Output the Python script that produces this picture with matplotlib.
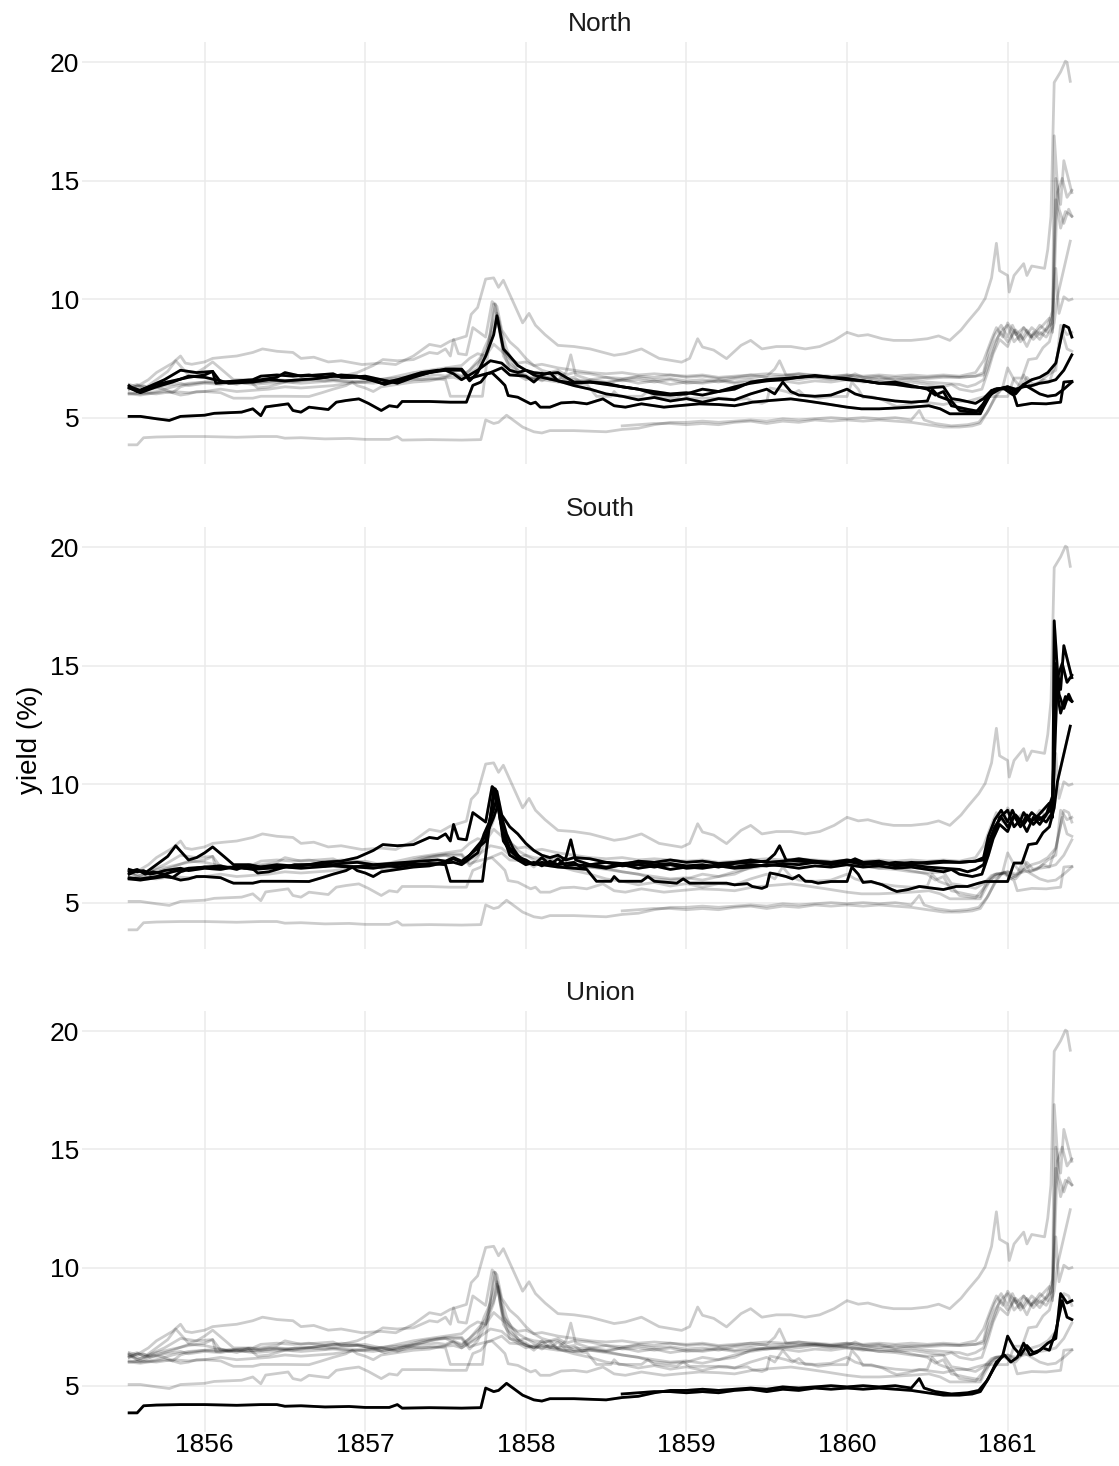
import matplotlib
matplotlib.use("Agg")
import matplotlib.pyplot as plt

plt.rcParams['font.family'] = ['Liberation Sans', 'DejaVu Sans']

# bond yields (%), (decimal year, yield)
north_a = [(1855.53, 6.35), (1855.58, 6.1), (1855.65, 6.3), (1855.75, 6.6), (1855.85, 7.0), (1855.95, 6.9),
           (1856.05, 6.95), (1856.1, 6.5), (1856.2, 6.55), (1856.3, 6.6), (1856.35, 6.75), (1856.45, 6.8),
           (1856.55, 6.75), (1856.65, 6.8), (1856.75, 6.7), (1856.85, 6.8), (1856.95, 6.75), (1857.1, 6.45),
           (1857.2, 6.6), (1857.35, 6.9), (1857.45, 7.0), (1857.6, 7.0), (1857.65, 6.55), (1857.7, 6.9),
           (1857.75, 7.6), (1857.8, 8.5), (1857.82, 9.3), (1857.86, 7.9), (1857.9, 7.6), (1857.95, 7.2),
           (1858.0, 7.0), (1858.05, 6.9), (1858.12, 6.85), (1858.2, 6.9), (1858.3, 6.5), (1858.4, 6.5),
           (1858.5, 6.4), (1858.6, 6.3), (1858.7, 6.2), (1858.8, 6.0), (1858.9, 5.95), (1859.0, 6.0),
           (1859.1, 6.2), (1859.2, 6.1), (1859.3, 6.3), (1859.4, 6.45), (1859.5, 6.55), (1859.6, 6.6),
           (1859.7, 6.7), (1859.8, 6.75), (1859.9, 6.7), (1860.0, 6.6), (1860.1, 6.55), (1860.2, 6.45),
           (1860.3, 6.5), (1860.4, 6.35), (1860.5, 6.2), (1860.55, 5.95), (1860.6, 6.1), (1860.65, 5.5),
           (1860.75, 5.35), (1860.83, 5.25), (1860.87, 5.9), (1860.92, 6.2), (1860.98, 6.25), (1861.05, 6.0),
           (1861.1, 6.4), (1861.15, 6.6), (1861.2, 6.7), (1861.25, 6.9), (1861.3, 7.3), (1861.35, 8.9),
           (1861.38, 8.8), (1861.4, 8.4)]
north_b = [(1855.53, 6.25), (1855.6, 6.05), (1855.7, 6.3), (1855.8, 6.5), (1855.9, 6.75), (1856.0, 6.7),
           (1856.1, 6.55), (1856.15, 6.45), (1856.3, 6.5), (1856.4, 6.6), (1856.5, 6.55), (1856.6, 6.6),
           (1856.7, 6.65), (1856.8, 6.75), (1856.9, 6.7), (1857.0, 6.75), (1857.1, 6.6), (1857.2, 6.45),
           (1857.3, 6.7), (1857.4, 6.9), (1857.5, 7.0), (1857.55, 6.85), (1857.6, 6.6), (1857.65, 6.8),
           (1857.7, 7.0), (1857.78, 7.4), (1857.85, 7.3), (1857.9, 7.0), (1857.95, 6.9), (1858.0, 7.0),
           (1858.05, 6.8), (1858.1, 6.7), (1858.2, 6.55), (1858.3, 6.35), (1858.4, 6.2), (1858.5, 6.0),
           (1858.6, 5.9), (1858.7, 5.75), (1858.8, 5.85), (1858.9, 5.7), (1859.0, 5.8), (1859.1, 5.65),
           (1859.2, 5.8), (1859.3, 5.75), (1859.4, 6.0), (1859.5, 6.2), (1859.55, 6.0), (1859.6, 6.5),
           (1859.65, 6.1), (1859.7, 5.95), (1859.8, 5.9), (1859.9, 5.95), (1860.0, 6.2), (1860.05, 6.0),
           (1860.1, 5.9), (1860.2, 5.8), (1860.3, 5.7), (1860.4, 5.65), (1860.5, 5.7), (1860.53, 6.2),
           (1860.57, 5.9), (1860.65, 5.7), (1860.7, 5.3), (1860.8, 5.2), (1860.85, 5.6), (1860.9, 6.0),
           (1860.95, 6.2), (1861.0, 6.3), (1861.05, 6.2), (1861.1, 6.3), (1861.15, 6.35), (1861.2, 6.45),
           (1861.25, 6.5), (1861.3, 6.6), (1861.35, 7.0), (1861.4, 7.65)]
north_c = [(1855.53, 5.05), (1855.6, 5.05), (1855.7, 4.95), (1855.78, 4.88), (1855.85, 5.05), (1856.0, 5.1),
           (1856.06, 5.18), (1856.23, 5.23), (1856.3, 5.37), (1856.35, 5.08), (1856.38, 5.45), (1856.52, 5.58),
           (1856.55, 5.3), (1856.6, 5.23), (1856.65, 5.44), (1856.77, 5.34), (1856.82, 5.65), (1856.88, 5.72),
           (1856.96, 5.79), (1857.02, 5.6), (1857.1, 5.3), (1857.15, 5.5), (1857.2, 5.45), (1857.23, 5.68),
           (1857.4, 5.68), (1857.53, 5.65), (1857.63, 5.65), (1857.67, 6.36), (1857.72, 6.5), (1857.76, 6.85),
           (1857.79, 6.89), (1857.84, 6.57), (1857.87, 6.36), (1857.89, 5.93), (1857.95, 5.86), (1858.03, 5.58),
           (1858.06, 5.65), (1858.09, 5.44), (1858.15, 5.44), (1858.22, 5.62), (1858.3, 5.65), (1858.38, 5.58),
           (1858.48, 5.79), (1858.55, 5.5), (1858.62, 5.44), (1858.72, 5.58), (1858.86, 5.44), (1858.95, 5.5),
           (1859.08, 5.58), (1859.2, 5.55), (1859.3, 5.5), (1859.41, 5.65), (1859.52, 5.72), (1859.65, 5.79),
           (1859.75, 5.7), (1859.87, 5.58), (1860.0, 5.44), (1860.09, 5.37), (1860.2, 5.37), (1860.29, 5.4),
           (1860.4, 5.44), (1860.51, 5.5), (1860.58, 5.37), (1860.64, 5.16), (1860.73, 5.16), (1860.83, 5.16),
           (1860.85, 5.44), (1860.89, 5.93), (1860.93, 6.21), (1860.98, 6.21), (1861.04, 5.93), (1861.06, 5.5),
           (1861.15, 5.6), (1861.24, 5.58), (1861.33, 5.65), (1861.35, 6.5), (1861.4, 6.53)]
north_d = [(1855.53, 6.3), (1855.6, 6.15), (1855.7, 6.4), (1855.8, 6.55), (1855.9, 6.7), (1856.0, 6.8),
           (1856.05, 6.95), (1856.07, 6.45), (1856.15, 6.5), (1856.25, 6.55), (1856.35, 6.6), (1856.45, 6.7),
           (1856.5, 6.9), (1856.6, 6.75), (1856.7, 6.8), (1856.8, 6.85), (1856.85, 6.7), (1856.95, 6.7),
           (1857.05, 6.6), (1857.12, 6.4), (1857.2, 6.55), (1857.3, 6.75), (1857.4, 6.9), (1857.5, 7.05),
           (1857.6, 7.05), (1857.65, 6.65), (1857.7, 6.75), (1857.78, 6.9), (1857.85, 7.1), (1857.9, 6.8),
           (1858.0, 6.75), (1858.05, 6.5), (1858.1, 6.8), (1858.15, 6.9), (1858.2, 6.55), (1858.3, 6.45),
           (1858.4, 6.5), (1858.5, 6.45), (1858.6, 6.3), (1858.7, 6.2), (1858.8, 6.1), (1858.9, 6.0),
           (1859.0, 6.05), (1859.1, 5.95), (1859.2, 6.1), (1859.3, 6.2), (1859.4, 6.5), (1859.5, 6.6),
           (1859.6, 6.65), (1859.7, 6.7), (1859.8, 6.78), (1859.9, 6.7), (1860.0, 6.65), (1860.1, 6.55),
           (1860.2, 6.45), (1860.3, 6.4), (1860.4, 6.3), (1860.5, 6.25), (1860.6, 6.3), (1860.65, 5.8),
           (1860.7, 5.75), (1860.8, 5.6), (1860.85, 5.8), (1860.9, 6.15), (1861.0, 6.3), (1861.05, 6.1),
           (1861.1, 6.4), (1861.15, 6.2), (1861.2, 6.0), (1861.25, 5.9), (1861.3, 5.95), (1861.35, 6.2),
           (1861.4, 6.5)]

south_a = [(1855.53, 6.2), (1855.58, 6.35), (1855.64, 6.3), (1855.71, 6.65), (1855.77, 6.95), (1855.82, 7.4),
           (1855.86, 7.1), (1855.9, 6.8), (1855.95, 6.9), (1856.0, 7.1), (1856.05, 7.35), (1856.12, 6.95),
           (1856.18, 6.6), (1856.27, 6.6), (1856.33, 6.25), (1856.4, 6.3), (1856.5, 6.5), (1856.56, 6.6),
           (1856.65, 6.6), (1856.73, 6.7), (1856.85, 6.75), (1856.95, 6.9), (1857.05, 7.2), (1857.11, 7.45),
           (1857.2, 7.4), (1857.3, 7.45), (1857.35, 7.6), (1857.4, 7.75), (1857.45, 7.7), (1857.5, 7.9),
           (1857.53, 7.6), (1857.55, 8.3), (1857.58, 7.7), (1857.63, 7.65), (1857.67, 8.8), (1857.71, 8.6),
           (1857.75, 8.4), (1857.79, 9.9), (1857.82, 9.7), (1857.85, 8.7), (1857.9, 8.2), (1857.95, 7.9),
           (1858.0, 7.5), (1858.05, 7.2), (1858.1, 7.0), (1858.15, 6.9), (1858.2, 7.0), (1858.25, 6.8),
           (1858.3, 6.9), (1858.4, 6.85), (1858.5, 6.7), (1858.6, 6.65), (1858.7, 6.7), (1858.8, 6.6),
           (1858.9, 6.65), (1859.0, 6.55), (1859.1, 6.6), (1859.2, 6.5), (1859.3, 6.65), (1859.4, 6.7),
           (1859.5, 6.75), (1859.55, 7.05), (1859.58, 7.4), (1859.62, 6.8), (1859.7, 6.75), (1859.8, 6.7),
           (1859.9, 6.6), (1860.0, 6.7), (1860.05, 6.85), (1860.1, 6.7), (1860.2, 6.75), (1860.3, 6.6),
           (1860.4, 6.7), (1860.5, 6.65), (1860.6, 6.7), (1860.7, 6.7), (1860.8, 6.75), (1860.85, 6.9),
           (1860.88, 7.8), (1860.92, 8.5), (1860.96, 8.9), (1861.0, 8.4), (1861.03, 8.9), (1861.07, 8.3),
           (1861.1, 8.8), (1861.14, 8.4), (1861.18, 8.6), (1861.22, 8.9), (1861.26, 9.2), (1861.28, 8.6),
           (1861.29, 16.9), (1861.32, 13.8), (1861.35, 13.2), (1861.38, 13.8), (1861.4, 13.5)]
south_b = [(1855.53, 6.05), (1855.6, 6.0), (1855.7, 6.1), (1855.8, 6.3), (1855.9, 6.45), (1856.0, 6.5),
           (1856.1, 6.45), (1856.2, 6.5), (1856.3, 6.4), (1856.4, 6.45), (1856.5, 6.5), (1856.6, 6.45),
           (1856.7, 6.5), (1856.8, 6.55), (1856.9, 6.5), (1857.0, 6.55), (1857.1, 6.6), (1857.2, 6.5),
           (1857.3, 6.6), (1857.4, 6.65), (1857.5, 6.6), (1857.53, 5.9), (1857.6, 5.9), (1857.7, 5.9),
           (1857.73, 5.9), (1857.76, 7.5), (1857.8, 9.8), (1857.83, 9.0), (1857.86, 7.6), (1857.9, 7.2),
           (1857.95, 6.9), (1858.0, 6.7), (1858.05, 6.6), (1858.1, 6.7), (1858.2, 6.6), (1858.25, 6.9),
           (1858.28, 7.65), (1858.31, 6.8), (1858.4, 6.6), (1858.5, 6.5), (1858.6, 6.6), (1858.7, 6.75),
           (1858.8, 6.7), (1858.9, 6.8), (1859.0, 6.7), (1859.1, 6.75), (1859.2, 6.65), (1859.3, 6.7),
           (1859.4, 6.8), (1859.5, 6.7), (1859.6, 6.75), (1859.7, 6.85), (1859.8, 6.75), (1859.9, 6.7),
           (1860.0, 6.8), (1860.1, 6.7), (1860.2, 6.6), (1860.3, 6.7), (1860.4, 6.65), (1860.5, 6.7),
           (1860.6, 6.75), (1860.7, 6.7), (1860.8, 6.75), (1860.85, 6.8), (1860.88, 7.5), (1860.92, 8.2),
           (1860.96, 8.6), (1861.0, 8.2), (1861.05, 8.7), (1861.1, 8.3), (1861.15, 8.8), (1861.2, 8.5),
           (1861.25, 8.8), (1861.28, 9.0), (1861.3, 15.1), (1861.33, 14.0), (1861.35, 15.85), (1861.4, 14.5)]
south_c = [(1855.53, 6.0), (1855.6, 5.95), (1855.65, 6.0), (1855.75, 6.1), (1855.8, 6.05), (1855.85, 5.95),
           (1855.9, 6.0), (1855.95, 6.1), (1856.0, 6.1), (1856.1, 6.05), (1856.15, 5.9), (1856.18, 5.82),
           (1856.3, 5.82), (1856.35, 5.9), (1856.4, 5.9), (1856.5, 5.9), (1856.65, 5.89), (1856.73, 6.05),
           (1856.8, 6.2), (1856.88, 6.35), (1856.92, 6.5), (1856.95, 6.35), (1857.0, 6.25), (1857.05, 6.1),
           (1857.1, 6.3), (1857.2, 6.4), (1857.3, 6.5), (1857.4, 6.55), (1857.5, 6.7), (1857.55, 6.85),
           (1857.6, 6.7), (1857.65, 7.0), (1857.7, 7.4), (1857.75, 7.8), (1857.8, 8.6), (1857.83, 9.2),
           (1857.86, 8.0), (1857.9, 7.3), (1857.95, 7.0), (1858.0, 6.7), (1858.1, 6.6), (1858.2, 6.5),
           (1858.3, 6.45), (1858.38, 6.4), (1858.44, 5.9), (1858.53, 5.9), (1858.55, 6.1), (1858.58, 5.9),
           (1858.72, 5.9), (1858.76, 6.1), (1858.8, 5.9), (1858.94, 5.82), (1858.98, 6.0), (1859.02, 5.82),
           (1859.25, 5.82), (1859.3, 5.75), (1859.38, 5.8), (1859.41, 5.68), (1859.47, 5.6), (1859.5, 5.68),
           (1859.52, 6.25), (1859.56, 6.2), (1859.62, 6.1), (1859.66, 6.0), (1859.7, 6.15), (1859.74, 5.9),
           (1859.78, 5.89), (1859.82, 5.82), (1859.9, 5.89), (1860.0, 5.89), (1860.03, 6.5), (1860.07, 6.2),
           (1860.1, 5.85), (1860.15, 5.89), (1860.22, 5.75), (1860.28, 5.55), (1860.31, 5.47), (1860.38, 5.55),
           (1860.45, 5.68), (1860.53, 5.61), (1860.6, 5.55), (1860.68, 5.68), (1860.75, 5.68), (1860.82, 5.82),
           (1860.86, 5.89), (1860.95, 5.89), (1861.0, 5.89), (1861.04, 6.67), (1861.09, 6.67), (1861.13, 7.45),
           (1861.18, 7.5), (1861.22, 7.95), (1861.26, 8.2), (1861.29, 9.0), (1861.31, 10.1), (1861.39, 12.45)]
south_d = [(1855.53, 6.4), (1855.58, 6.3), (1855.62, 6.35), (1855.66, 6.2), (1855.7, 6.25), (1855.75, 6.35),
           (1855.8, 6.4), (1855.85, 6.45), (1855.9, 6.35), (1856.0, 6.45), (1856.1, 6.4), (1856.18, 6.5),
           (1856.25, 6.45), (1856.35, 6.5), (1856.45, 6.6), (1856.55, 6.55), (1856.65, 6.6), (1856.75, 6.55),
           (1856.85, 6.65), (1856.95, 6.7), (1857.05, 6.6), (1857.15, 6.65), (1857.25, 6.7), (1857.35, 6.75),
           (1857.45, 6.8), (1857.5, 6.75), (1857.55, 6.9), (1857.6, 6.75), (1857.65, 7.0), (1857.7, 7.3),
           (1857.75, 7.6), (1857.79, 9.0), (1857.81, 9.8), (1857.84, 8.5), (1857.87, 7.6), (1857.9, 7.0),
           (1857.95, 6.8), (1858.0, 6.6), (1858.05, 6.7), (1858.1, 6.55), (1858.15, 6.75), (1858.2, 6.6),
           (1858.3, 6.7), (1858.35, 6.45), (1858.4, 6.6), (1858.5, 6.7), (1858.6, 6.55), (1858.7, 6.6),
           (1858.8, 6.5), (1858.9, 6.6), (1859.0, 6.45), (1859.1, 6.5), (1859.2, 6.6), (1859.3, 6.5),
           (1859.4, 6.6), (1859.5, 6.55), (1859.6, 6.65), (1859.7, 6.6), (1859.8, 6.7), (1859.9, 6.65),
           (1860.0, 6.75), (1860.1, 6.6), (1860.2, 6.7), (1860.3, 6.55), (1860.4, 6.6), (1860.5, 6.5),
           (1860.6, 6.45), (1860.7, 6.4), (1860.75, 6.3), (1860.8, 6.4), (1860.85, 6.6), (1860.88, 7.2),
           (1860.92, 8.0), (1860.95, 8.6), (1861.0, 8.9), (1861.04, 8.2), (1861.08, 8.5), (1861.12, 8.0),
           (1861.16, 8.6), (1861.2, 8.3), (1861.24, 8.7), (1861.28, 9.5), (1861.3, 14.2), (1861.33, 13.0),
           (1861.36, 13.7), (1861.4, 13.5)]
south_e = [(1855.53, 6.3), (1855.58, 6.4), (1855.63, 6.2), (1855.68, 6.3), (1855.75, 6.2), (1855.8, 6.05),
           (1855.85, 6.3), (1855.9, 6.4), (1856.0, 6.5), (1856.1, 6.55), (1856.2, 6.4), (1856.28, 6.6),
           (1856.35, 6.5), (1856.45, 6.55), (1856.55, 6.5), (1856.65, 6.6), (1856.75, 6.65), (1856.85, 6.55),
           (1856.95, 6.5), (1857.05, 6.45), (1857.15, 6.55), (1857.25, 6.65), (1857.35, 6.6), (1857.45, 6.65),
           (1857.55, 6.7), (1857.6, 6.6), (1857.65, 6.85), (1857.7, 7.1), (1857.74, 7.9), (1857.78, 8.5),
           (1857.82, 9.4), (1857.85, 8.6), (1857.88, 7.9), (1857.92, 7.3), (1857.96, 6.9), (1858.0, 6.8),
           (1858.05, 6.6), (1858.1, 6.9), (1858.15, 6.6), (1858.2, 6.85), (1858.25, 6.55), (1858.3, 6.6),
           (1858.4, 6.55), (1858.5, 6.45), (1858.6, 6.6), (1858.7, 6.45), (1858.8, 6.55), (1858.9, 6.4),
           (1859.0, 6.5), (1859.1, 6.45), (1859.2, 6.55), (1859.3, 6.45), (1859.4, 6.5), (1859.5, 6.6),
           (1859.6, 6.55), (1859.7, 6.45), (1859.8, 6.55), (1859.9, 6.5), (1860.0, 6.6), (1860.1, 6.5),
           (1860.2, 6.55), (1860.3, 6.45), (1860.4, 6.5), (1860.5, 6.4), (1860.6, 6.3), (1860.65, 6.4),
           (1860.7, 6.2), (1860.78, 6.1), (1860.84, 6.2), (1860.88, 7.0), (1860.91, 7.7), (1860.95, 8.3),
           (1861.0, 8.0), (1861.04, 8.7), (1861.08, 8.2), (1861.12, 8.7), (1861.16, 8.3), (1861.2, 8.6),
           (1861.24, 8.4), (1861.28, 8.8), (1861.31, 14.5), (1861.34, 15.1), (1861.37, 14.3), (1861.4, 14.6)]

union_a = [(1855.53, 3.85), (1855.58, 3.85), (1855.62, 4.15), (1855.7, 4.18), (1855.85, 4.2), (1856.0, 4.2),
           (1856.2, 4.17), (1856.35, 4.2), (1856.45, 4.2), (1856.5, 4.13), (1856.6, 4.15), (1856.75, 4.1),
           (1856.9, 4.12), (1857.0, 4.08), (1857.15, 4.08), (1857.2, 4.2), (1857.23, 4.05), (1857.4, 4.07),
           (1857.6, 4.05), (1857.72, 4.07), (1857.75, 4.9), (1857.8, 4.75), (1857.83, 4.8), (1857.88, 5.1),
           (1857.93, 4.85), (1857.98, 4.6), (1858.05, 4.4), (1858.1, 4.35), (1858.15, 4.45), (1858.3, 4.45),
           (1858.5, 4.4), (1858.6, 4.5), (1858.7, 4.55), (1858.8, 4.7), (1858.9, 4.8), (1859.0, 4.8),
           (1859.1, 4.85), (1859.2, 4.8), (1859.3, 4.85), (1859.4, 4.9), (1859.5, 4.85), (1859.6, 4.95),
           (1859.7, 4.9), (1859.8, 4.95), (1859.9, 5.0), (1860.0, 4.95), (1860.1, 5.0), (1860.2, 4.95),
           (1860.3, 5.0), (1860.4, 4.9), (1860.45, 5.3), (1860.48, 4.9), (1860.55, 4.75), (1860.65, 4.65),
           (1860.75, 4.7), (1860.82, 4.8), (1860.87, 5.2), (1860.92, 5.8), (1860.97, 6.3), (1861.0, 7.1),
           (1861.04, 6.6), (1861.08, 6.3), (1861.12, 6.7), (1861.16, 6.4), (1861.2, 6.5), (1861.25, 6.8),
           (1861.3, 7.0), (1861.33, 8.9), (1861.37, 8.5), (1861.4, 8.6)]
union_b = [(1858.6, 4.65), (1858.7, 4.7), (1858.8, 4.75), (1858.9, 4.75), (1859.0, 4.7), (1859.1, 4.75),
           (1859.2, 4.7), (1859.3, 4.8), (1859.4, 4.85), (1859.5, 4.75), (1859.6, 4.85), (1859.7, 4.8),
           (1859.8, 4.9), (1859.9, 4.85), (1860.0, 4.9), (1860.1, 4.85), (1860.2, 4.9), (1860.3, 4.85),
           (1860.4, 4.8), (1860.5, 4.7), (1860.6, 4.6), (1860.7, 4.6), (1860.78, 4.65), (1860.83, 4.75),
           (1860.88, 5.3), (1860.93, 6.0), (1860.98, 6.3), (1861.02, 6.0), (1861.06, 6.2), (1861.1, 6.8),
           (1861.14, 6.3), (1861.18, 6.4), (1861.22, 6.6), (1861.26, 6.5), (1861.3, 7.3), (1861.34, 8.6),
           (1861.37, 7.9), (1861.4, 7.8)]

other_a = [(1855.53, 6.2), (1855.6, 6.4), (1855.65, 6.6), (1855.7, 6.9), (1855.75, 7.1), (1855.8, 7.3),
           (1855.85, 7.6), (1855.88, 7.3), (1855.92, 7.25), (1856.0, 7.35), (1856.05, 7.5), (1856.12, 7.55),
           (1856.2, 7.6), (1856.3, 7.75), (1856.36, 7.9), (1856.45, 7.8), (1856.55, 7.75), (1856.6, 7.5),
           (1856.68, 7.55), (1856.77, 7.35), (1856.85, 7.4), (1856.98, 7.24), (1857.1, 7.3), (1857.19, 7.24),
           (1857.3, 7.6), (1857.4, 8.09), (1857.47, 8.0), (1857.53, 8.23), (1857.63, 8.44), (1857.66, 9.36),
           (1857.7, 9.65), (1857.75, 10.85), (1857.8, 10.9), (1857.83, 10.5), (1857.86, 10.8), (1857.9, 10.2),
           (1857.94, 9.6), (1857.98, 9.0), (1858.02, 9.4), (1858.06, 8.9), (1858.12, 8.5), (1858.2, 8.05),
           (1858.3, 8.0), (1858.4, 7.9), (1858.55, 7.63), (1858.62, 7.7), (1858.72, 7.9), (1858.83, 7.5),
           (1858.97, 7.34), (1859.02, 7.5), (1859.07, 8.33), (1859.1, 7.98), (1859.17, 7.85), (1859.25, 7.49),
           (1859.34, 8.05), (1859.4, 8.26), (1859.47, 7.9), (1859.56, 8.0), (1859.65, 8.0), (1859.74, 7.9),
           (1859.83, 8.0), (1859.92, 8.26), (1860.0, 8.6), (1860.07, 8.45), (1860.13, 8.5), (1860.22, 8.33),
           (1860.29, 8.26), (1860.4, 8.26), (1860.5, 8.33), (1860.57, 8.45), (1860.64, 8.26), (1860.71, 8.7),
           (1860.75, 9.04), (1860.82, 9.6), (1860.86, 10.03), (1860.9, 10.9), (1860.93, 12.36), (1860.95, 11.2),
           (1861.0, 11.0), (1861.01, 10.3), (1861.04, 11.0), (1861.1, 11.5), (1861.12, 11.0), (1861.15, 11.4),
           (1861.23, 11.3), (1861.25, 12.1), (1861.27, 13.5), (1861.29, 19.15), (1861.33, 19.6), (1861.36, 20.05),
           (1861.37, 20.0), (1861.39, 19.2)]
other_b = [(1855.53, 6.0), (1855.6, 6.05), (1855.7, 6.0), (1855.8, 6.1), (1855.9, 6.05), (1856.0, 6.1),
           (1856.1, 6.2), (1856.2, 6.1), (1856.3, 6.15), (1856.4, 6.2), (1856.5, 6.3), (1856.6, 6.25),
           (1856.7, 6.3), (1856.8, 6.35), (1856.9, 6.45), (1857.0, 6.5), (1857.1, 6.6), (1857.2, 6.75),
           (1857.3, 6.9), (1857.4, 7.0), (1857.5, 7.1), (1857.6, 7.2), (1857.65, 7.5), (1857.7, 7.7),
           (1857.75, 7.6), (1857.8, 8.1), (1857.85, 7.8), (1857.9, 7.5), (1857.95, 7.3), (1858.0, 7.35),
           (1858.05, 7.2), (1858.1, 7.25), (1858.2, 7.1), (1858.3, 7.0), (1858.4, 6.9), (1858.5, 6.85),
           (1858.6, 6.9), (1858.7, 6.8), (1858.8, 6.85), (1858.9, 6.8), (1859.0, 6.75), (1859.1, 6.8),
           (1859.2, 6.7), (1859.3, 6.75), (1859.4, 6.8), (1859.5, 6.85), (1859.6, 6.8), (1859.7, 6.85),
           (1859.8, 6.8), (1859.9, 6.75), (1860.0, 6.8), (1860.1, 6.75), (1860.2, 6.8), (1860.3, 6.75),
           (1860.4, 6.8), (1860.5, 6.75), (1860.6, 6.8), (1860.7, 6.75), (1860.8, 6.9), (1860.85, 7.4),
           (1860.9, 8.3), (1860.93, 8.8), (1860.97, 8.4), (1861.0, 9.0), (1861.05, 8.5), (1861.1, 8.8),
           (1861.15, 8.4), (1861.2, 8.9), (1861.25, 8.6), (1861.28, 9.3), (1861.3, 11.3), (1861.32, 9.4),
           (1861.35, 10.1), (1861.38, 9.95), (1861.4, 10.0)]

north = [north_a, north_b, north_c, north_d]
south = [south_a, south_b, south_c, south_d, south_e]
union = [union_a, union_b]
other = [other_a, other_b]
all_series = north + south + union + other

panels = [("North", north), ("South", south), ("Union", union)]
year_ticks = [1856, 1857, 1858, 1859, 1860, 1861]
yield_ticks = [5, 10, 15, 20]

W, H = 1119, 1466
fig = plt.figure(figsize=(W / 100, H / 100), dpi=100)

# panel boxes in pixels: top, bottom
boxes = [(42, 464), (527, 949), (1011, 1432)]
left, right = 82, 1119

for (name, group), (top, bot) in zip(panels, boxes):
    ax = fig.add_axes([left / W, 1 - bot / H, (right - left) / W, (bot - top) / H])
    for s in all_series:
        xs, ys = zip(*s)
        ax.plot(xs, ys, color='black', alpha=0.2, lw=2.0, solid_joinstyle='round', zorder=2)
    for s in group:
        xs, ys = zip(*s)
        ax.plot(xs, ys, color='black', lw=2.0, solid_joinstyle='round', zorder=3)
    ax.margins(x=0.05, y=0.05)
    ax.set_xticks(year_ticks)
    ax.set_yticks(yield_ticks)
    ax.grid(True, color='#EBEBEB', lw=1.1, zorder=0)
    ax.set_axisbelow(True)
    for sp in ax.spines.values():
        sp.set_visible(False)
    ax.tick_params(axis='y', length=0, labelsize=19, labelcolor='black', pad=2)
    ax.tick_params(axis='x', length=0, labelsize=19, labelcolor='black', pad=1)
    if name != "Union":
        ax.tick_params(labelbottom=False)
    ax.set_title(name, fontsize=19, color='#1A1A1A', pad=8)

fig.text(30 / W, 1 - 740 / H, "yield (%)", rotation=90, ha='center', va='center', fontsize=20)

fig.savefig("out.png", dpi=100, facecolor='white')
